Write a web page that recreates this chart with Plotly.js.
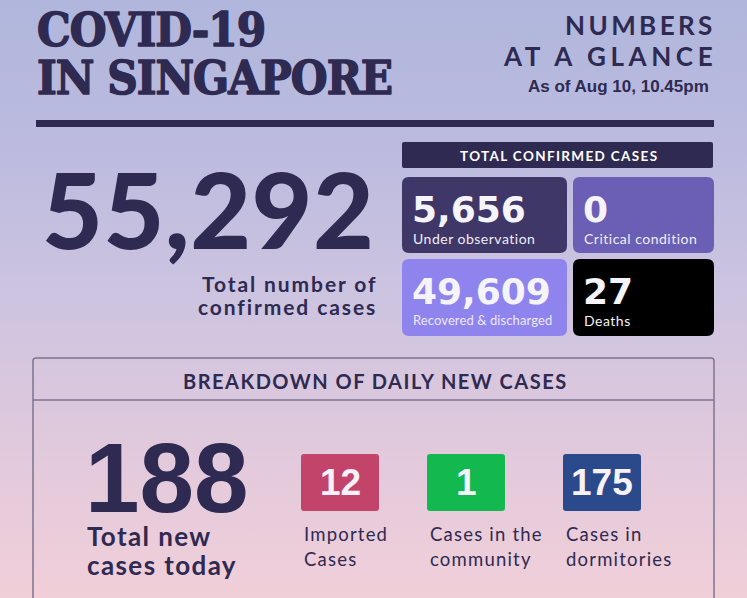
<!DOCTYPE html>
<html>
<head>
<meta charset="utf-8">
<script src="https://cdn.plot.ly/plotly-3.0.1.min.js"></script>
<style>
html,body{margin:0;padding:0;}
body{width:747px;height:598px;overflow:hidden;
background:linear-gradient(180deg,#b0b6dc 0%,#bcbbdf 25%,#cdc4e0 50%,#e1c9dc 75%,#f1cfd9 100%);}
#chart{width:747px;height:598px;}
</style>
</head>
<body>
<div id="chart"></div>
<script>
// ---- data ----
const titleLines = ['COVID-19', 'IN SINGAPORE'];
const subtitleLines = ['NUMBERS', 'AT A GLANCE'];
const asOfText = 'As of Aug 10, 10.45pm';
const totalConfirmed = 55292;
const totalConfirmedLabel = ['Total number of', 'confirmed cases'];
const confirmedHeader = 'TOTAL CONFIRMED CASES';
const tileLabels = ['Under observation', 'Critical condition', 'Recovered & discharged', 'Deaths'];
const tileValues = [5656, 0, 49609, 27];
const breakdownHeader = 'BREAKDOWN OF DAILY NEW CASES';
const dailyTotal = 188;
const dailyTotalLabel = ['Total new', 'cases today'];
const dailyLabels = [['Imported', 'Cases'], ['Cases in the', 'community'], ['Cases in', 'dormitories']];
const dailyValues = [12, 1, 175];

// ---- styles / layout ----
const NAVY = '#2e2a51';
const fmt = v => v.toLocaleString('en-US');
const shapes = [];
const ann = [];

function rr(x0, y0, x1, y1, r) {
  return `M${x0 + r},${y0} H${x1 - r} Q${x1},${y0} ${x1},${y0 + r} V${y1 - r} Q${x1},${y1} ${x1 - r},${y1} H${x0 + r} Q${x0},${y1} ${x0},${y1 - r} V${y0 + r} Q${x0},${y0} ${x0 + r},${y0} Z`;
}
function rect(x0, y0, x1, y1, r, fill) {
  shapes.push({type: 'path', path: rr(x0, y0, x1, y1, r), fillcolor: fill, line: {width: 0}, layer: 'below'});
}
function txt(text, x, y, size, color, family, weight, xanchor, ls, stroke) {
  let st = '';
  if (ls) st += `letter-spacing:${ls}px;`;
  if (stroke) st += `stroke:${color};stroke-width:${stroke}px;stroke-linejoin:round;`;
  const t = st ? `<span style="${st}">${text}</span>` : text;
  ann.push({text: t, x: x, y: y, xref: 'x', yref: 'y', showarrow: false,
    xanchor: xanchor || 'left', yanchor: 'middle', borderpad: 0,
    font: {size: size, color: color, family: family, weight: weight || 400}});
}

const LATO = 'Lato, sans-serif';
const SANS = 'Liberation Sans, Arial, sans-serif';
const WIDE = 'DejaVu Sans, sans-serif';

// Title block
const SLAB = 'DejaVu Serif Condensed, DejaVu Serif, serif';
txt(titleLines[0], 36, 29, 47, NAVY, SLAB, 700, 'left', -1, 1.4);
txt(titleLines[1], 36, 77, 47, NAVY, SLAB, 700, 'left', -1, 1.4);
txt(subtitleLines[0], 717, 25, 26, NAVY, LATO, 700, 'right', 3.4);
txt(subtitleLines[1], 718, 56, 26, NAVY, LATO, 700, 'right', 4.6);
txt(asOfText, 710, 86, 17, NAVY, 'Liberation Sans Narrow, Liberation Sans, sans-serif', 700, 'right');

// rule
shapes.push({type: 'rect', x0: 36, x1: 714, y0: 120, y1: 127, fillcolor: NAVY, line: {width: 0}});

// Big total
txt(fmt(totalConfirmed), 375, 208, 105, NAVY, LATO, 900, 'right', 0.5);
txt(totalConfirmedLabel[0], 378, 283, 21, NAVY, LATO, 700, 'right', 1.9);
txt(totalConfirmedLabel[1], 378, 306, 21, NAVY, LATO, 700, 'right', 1.9);

// confirmed header + tiles
rect(402, 142, 713, 168, 2, NAVY);
txt(confirmedHeader, 559, 156, 13.5, '#ffffff', LATO, 700, 'center', 1.35);
const tileCols = [[402, 567], [573, 714]];
const tileRows = [[177, 253], [259, 336]];
const tileFill = ['#3e3768', '#6b5fb5', '#8f84ee', '#000000'];
const tileLabelColor = ['#efedf8', '#efedf8', '#ece8ff', '#f4f4f4'];
tileValues.forEach((v, i) => {
  const c = tileCols[i % 2], r = tileRows[Math.floor(i / 2)];
  rect(c[0], r[0], c[1], r[1], 7, tileFill[i]);
  txt(fmt(v), c[0] + 9, r[0] + 32, 36, '#f6f4fb', WIDE, 700, 'left');
  const long = tileLabels[i].length > 20;
  txt(tileLabels[i], c[0] + 10, r[0] + 61, long ? 13 : 14, tileLabelColor[i], LATO, 400, 'left', long ? 0.1 : 0.5);
});

// breakdown box
shapes.push({type: 'path', path: 'M33,640 V361 Q33,358 36,358 H711 Q714,358 714,361 V640',
  line: {color: '#7d7490', width: 1.5}});
shapes.push({type: 'line', x0: 33, x1: 714, y0: 400, y1: 400, line: {color: '#7d7490', width: 1.5}});
txt(breakdownHeader, 375, 381, 20, NAVY, LATO, 700, 'center', 1.5);

txt(fmt(dailyTotal), 250, 478, 98, NAVY, SANS, 700, 'right');
txt(dailyTotalLabel[0], 86, 536, 26, NAVY, LATO, 700, 'left', 1.4);
txt(dailyTotalLabel[1], 86, 565, 26, NAVY, LATO, 700, 'left', 1.4);

const sqX = [301, 427, 563];
const sqFill = ['#c3446b', '#13b94f', '#2b4a8b'];
dailyValues.forEach((v, i) => {
  rect(sqX[i], 454, sqX[i] + 78, 511, 3, sqFill[i]);
  txt(fmt(v), sqX[i] + 39, 482, 37, '#f8f2f8', SANS, 700, 'center');
  txt(dailyLabels[i][0], sqX[i] + 2, 534, 18.5, NAVY, LATO, 400, 'left', 1.2);
  txt(dailyLabels[i][1], sqX[i] + 2, 559, 18.5, NAVY, LATO, 400, 'left', 1.2);
});

const layout = {
  width: 747, height: 598,
  margin: {l: 0, r: 0, t: 0, b: 0},
  paper_bgcolor: 'rgba(0,0,0,0)', plot_bgcolor: 'rgba(0,0,0,0)',
  xaxis: {range: [0, 747], visible: false, fixedrange: true},
  yaxis: {range: [598, 0], visible: false, fixedrange: true},
  showlegend: false,
  shapes: shapes,
  annotations: ann
};
Plotly.newPlot('chart', [], layout, {displayModeBar: false, staticPlot: true});
</script>
</body>
</html>
